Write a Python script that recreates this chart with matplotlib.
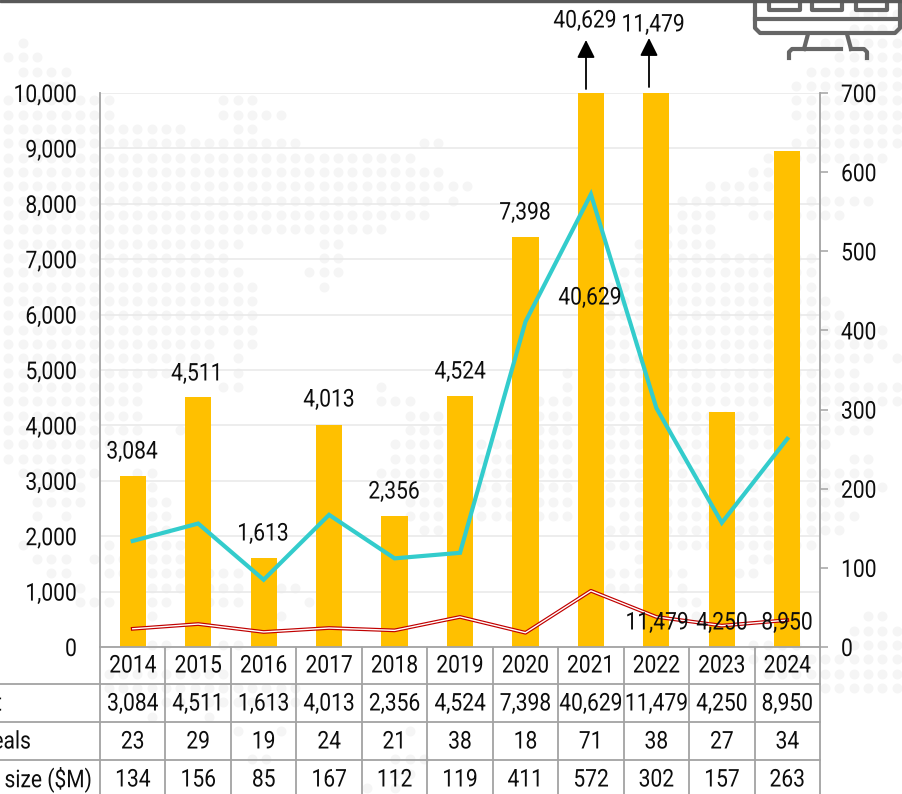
import matplotlib
matplotlib.use('Agg')
import matplotlib.pyplot as plt
import matplotlib.patheffects as pe
from matplotlib.patches import Rectangle
from matplotlib.transforms import Affine2D

plt.rcParams['font.family'] = ['Roboto', 'DejaVu Sans']

years = [2014, 2015, 2016, 2017, 2018, 2019, 2020, 2021, 2022, 2023, 2024]
deal_value = [3084, 4511, 1613, 4013, 2356, 4524, 7398, 40629, 11479, 4250, 8950]
num_deals = [23, 29, 19, 24, 21, 38, 18, 71, 38, 27, 34]
avg_size = [134, 156, 85, 167, 112, 119, 411, 572, 302, 157, 263]
row_names = ['t', 'eals', 'size ($M)']
left_ticks = [0, 1000, 2000, 3000, 4000, 5000, 6000, 7000, 8000, 9000, 10000]
right_ticks = [0, 100, 200, 300, 400, 500, 600, 700]

# background map, row number -> runs of dot columns
map_rows = {
    1: [(59, 62)], 2: [(59, 62)], 3: [(1, 1), (57, 62)], 4: [(0, 2), (58, 62)],
    5: [(1, 4), (56, 62)], 6: [(3, 4), (55, 62)],
    7: [(0, 7), (15, 17), (55, 62)], 8: [(0, 7), (15, 19), (55, 62)],
    9: [(0, 12), (16, 17), (56, 62)], 10: [(0, 20), (29, 30), (55, 62)],
    11: [(0, 28), (53, 61)], 12: [(0, 30), (52, 53)], 13: [(0, 32), (49, 53)],
    14: [(0, 29), (31, 31), (47, 52), (56, 60)], 15: [(0, 29), (47, 49), (52, 58)],
    16: [(0, 26), (46, 49)], 17: [(0, 16), (22, 23), (44, 49)],
    18: [(0, 15), (22, 23), (44, 56)], 19: [(0, 16), (21, 23), (43, 56)],
    20: [(0, 17), (22, 22), (42, 56)], 21: [(0, 17), (41, 57)],
    22: [(0, 17), (41, 58)], 23: [(0, 17), (41, 61)],
    24: [(0, 14), (16, 17), (41, 61)], 25: [(0, 14), (16, 16), (42, 60), (62, 62)],
    26: [(0, 13), (16, 16), (39, 39), (42, 59)],
    27: [(0, 9), (15, 16), (26, 26), (39, 39), (42, 62)],
    28: [(0, 9), (26, 28), (37, 39), (42, 62)],
    29: [(0, 9), (28, 30), (37, 39), (42, 52), (56, 60)],
    30: [(0, 9), (12, 12), (28, 30), (37, 39), (42, 60)],
    31: [(0, 9), (27, 30), (33, 35), (37, 39), (42, 57)],
    32: [(0, 5), (27, 30), (33, 35), (37, 39), (42, 51), (56, 56), (59, 60)],
    33: [(1, 6), (9, 10), (26, 30), (33, 35), (37, 39), (42, 53), (56, 60)],
    34: [(2, 5), (10, 10), (26, 30), (33, 35), (37, 39), (42, 53), (56, 61)],
    35: [(2, 5), (10, 11), (28, 30), (33, 35), (37, 39), (42, 53), (56, 58)],
    36: [(2, 2), (4, 4), (10, 11), (28, 30), (33, 35), (37, 39), (43, 59)],
    37: [(10, 11), (29, 30), (42, 58)], 38: [(1, 1), (7, 7), (10, 12), (42, 56)],
    39: [(2, 4), (6, 12), (44, 44), (52, 53)], 40: [(3, 4), (7, 16), (42, 47), (51, 52)],
    41: [(5, 5), (10, 16), (19, 20), (42, 44), (47, 47)],
    42: [(5, 7), (10, 11), (14, 16), (21, 21), (47, 48)],
    43: [(10, 10), (19, 19), (48, 48), (60, 61)], 44: [(59, 62)],
    45: [(10, 11), (15, 16), (52, 55), (59, 62)], 46: [(50, 62)], 47: [(7, 15), (53, 62)],
    48: [(7, 20), (57, 62)], 49: [(10, 20)], 50: [(10, 10), (14, 14)],
    51: [(16, 16), (19, 19), (28, 28)], 53: [(17, 18), (27, 29)], 54: [(18, 18), (27, 28)],
    55: [(25, 25), (27, 27)],
}

W, H = 902, 794
LEFT, RIGHT, TOP, BOTTOM = 100, 820, 93, 647
GRAY = '#a3a3a3'
TEXT = '#0d0d0d'
FS = 17.6


class Condensed(pe.AbstractPathEffect):
    # Roboto Condensed is not installed, so squeeze the glyphs of Roboto
    def __init__(self, anchor='center', k=0.86):
        super().__init__()
        self.anchor = anchor
        self.k = k

    def draw_path(self, renderer, gc, tpath, affine, rgbFace=None):
        box = tpath.get_extents()
        x0 = {'left': box.x0, 'right': box.x1, 'center': (box.x0 + box.x1) / 2}[self.anchor]
        squeeze = Affine2D().translate(-x0, 0).scale(self.k, 1).translate(x0, 0)
        renderer.draw_path(gc, tpath, squeeze + affine, rgbFace)


fig = plt.figure(figsize=(W / 100, H / 100), dpi=100)

# full size axes in pixel units for map, table, icon
bg = fig.add_axes([0, 0, 1, 1])
bg.set_xlim(0, W)
bg.set_ylim(H, 0)
bg.axis('off')

dot_x, dot_y = [], []
for r, runs in map_rows.items():
    for a, b in runs:
        for c in range(a, b + 1):
            dot_x.append(8.3 + 14.33 * c)
            dot_y.append(14.33 * r)
bg.scatter(dot_x, dot_y, s=52, color='#f5f5f5', linewidths=0, zorder=1)

bg.add_patch(Rectangle((0, 0), W, 2, color='#595959', zorder=5))

# table grid
cell = (RIGHT - LEFT) / len(years)
for y0 in [684, 722, 760]:
    bg.plot([0, RIGHT], [y0, y0], color=GRAY, lw=1.3, zorder=2)
for i in range(len(years) + 1):
    bg.plot([LEFT + i * cell] * 2, [BOTTOM, H], color=GRAY, lw=1.3, zorder=2)

table_rows = [(666, [str(y) for y in years]),
              (704, [f'{v:,}' for v in deal_value]),
              (742, [str(v) for v in num_deals]),
              (780, [str(v) for v in avg_size])]
for y0, cells in table_rows:
    for i, s in enumerate(cells):
        bg.text(LEFT + (i + 0.5) * cell, y0, s, ha='center', va='center', fontsize=FS, color=TEXT,
                path_effects=[Condensed()])
for y0, s, xe in zip([704, 742, 780], row_names, [2, 31, 92]):
    bg.text(xe, y0, s, ha='right', va='center', fontsize=FS, color=TEXT,
            path_effects=[Condensed('right')])

# monitor icon, cut off by the top of the picture
ICON = '#666666'
bg.plot([755, 755, 760, 895, 900, 900], [3, 28, 33, 33, 28, 3], color=ICON, lw=3, solid_joinstyle='round', zorder=3)
bg.plot([755, 900], [19, 19], color=ICON, lw=3, zorder=3)
for x0, x1 in [(769, 800), (812, 842), (856, 887)]:
    bg.plot([x0, x0, x1, x1], [2, 10, 10, 2], color=ICON, lw=3, zorder=3)
bg.plot([808, 804], [34, 49], color=ICON, lw=3, zorder=3)
bg.plot([847, 851], [34, 49], color=ICON, lw=3, zorder=3)
bg.plot([789, 789, 792, 841], [58, 52, 49, 49], color=ICON, lw=3, solid_joinstyle='round', zorder=3)
bg.plot([867, 867, 864, 851], [58, 52, 49, 49], color=ICON, lw=3, solid_joinstyle='round', zorder=3)

# arrows for bars running off the scale
bg.annotate('', xy=(586, 40), xytext=(586, 89), zorder=4,
            arrowprops=dict(arrowstyle='-|>,head_length=0.4,head_width=0.2', color='black', lw=1.3,
                            mutation_scale=27, shrinkA=0, shrinkB=0))
bg.annotate('', xy=(649, 38), xytext=(649, 87), zorder=4,
            arrowprops=dict(arrowstyle='-|>,head_length=0.4,head_width=0.2', color='black', lw=1.3,
                            mutation_scale=27, shrinkA=0, shrinkB=0))

# main chart
ax = fig.add_axes([LEFT / W, 1 - BOTTOM / H, (RIGHT - LEFT) / W, (BOTTOM - TOP) / H])
ax.patch.set_alpha(0)
xs = list(range(len(years)))
ax.bar(xs, deal_value, width=0.4, color='#ffc000', zorder=2)
ax.set_xlim(-0.5, len(years) - 0.5)
ax.set_ylim(0, 10000)
ax.set_yticks(left_ticks)
ax.set_yticklabels([f'{v:,}' for v in left_ticks], fontsize=FS, color=TEXT,
                   path_effects=[Condensed('right')])
ax.set_xticks([])
ax.tick_params(axis='y', length=0, pad=16.5)
ax.grid(axis='y', color='#e8e8e8', lw=1.1, zorder=0)
ax.set_axisbelow(True)
ax.spines['top'].set_visible(False)
ax.spines['left'].set_color(GRAY)
ax.spines['bottom'].set_color(GRAY)
ax.spines['left'].set_linewidth(1.3)
ax.spines['bottom'].set_linewidth(1.3)
ax.spines['right'].set_visible(False)

ax2 = ax.twinx()
ax2.patch.set_alpha(0)
ax2.set_ylim(0, 700)
ax2.set_yticks(right_ticks)
ax2.set_yticklabels([str(v) for v in right_ticks], fontsize=FS, color=TEXT,
                    path_effects=[Condensed('left')])
ax2.tick_params(axis='y', length=6, width=1.1, color=GRAY, pad=9)
for s in ['top', 'left', 'bottom']:
    ax2.spines[s].set_visible(False)
ax2.spines['right'].set_color(GRAY)
ax2.spines['right'].set_linewidth(1.3)
ax2.plot(xs, avg_size, color='#33cccc', lw=3, solid_joinstyle='miter', zorder=3)
ax2.plot(xs, num_deals, color='#c00000', lw=2.7, zorder=3)
ax2.plot(xs, num_deals, color='white', lw=1.0, zorder=4)

# data labels sit where they were dragged to in the original
label_px = [(132, 452), (197, 374), (263, 534), (329, 400), (394, 492), (460, 372),
            (525, 213), (590, 298), (657, 623), (722, 623), (787, 623)]
for v, (px, py) in zip(deal_value, label_px):
    fig.text(px / W, 1 - py / H, f'{v:,}', ha='center', va='center', fontsize=FS, color=TEXT,
             path_effects=[Condensed()])
fig.text(585 / W, 1 - 21 / H, f'{deal_value[7]:,}', ha='center', va='center', fontsize=FS, color=TEXT,
         path_effects=[Condensed()])
fig.text(653 / W, 1 - 25 / H, f'{deal_value[8]:,}', ha='center', va='center', fontsize=FS, color=TEXT,
         path_effects=[Condensed()])

fig.savefig('out.png', dpi=100)
